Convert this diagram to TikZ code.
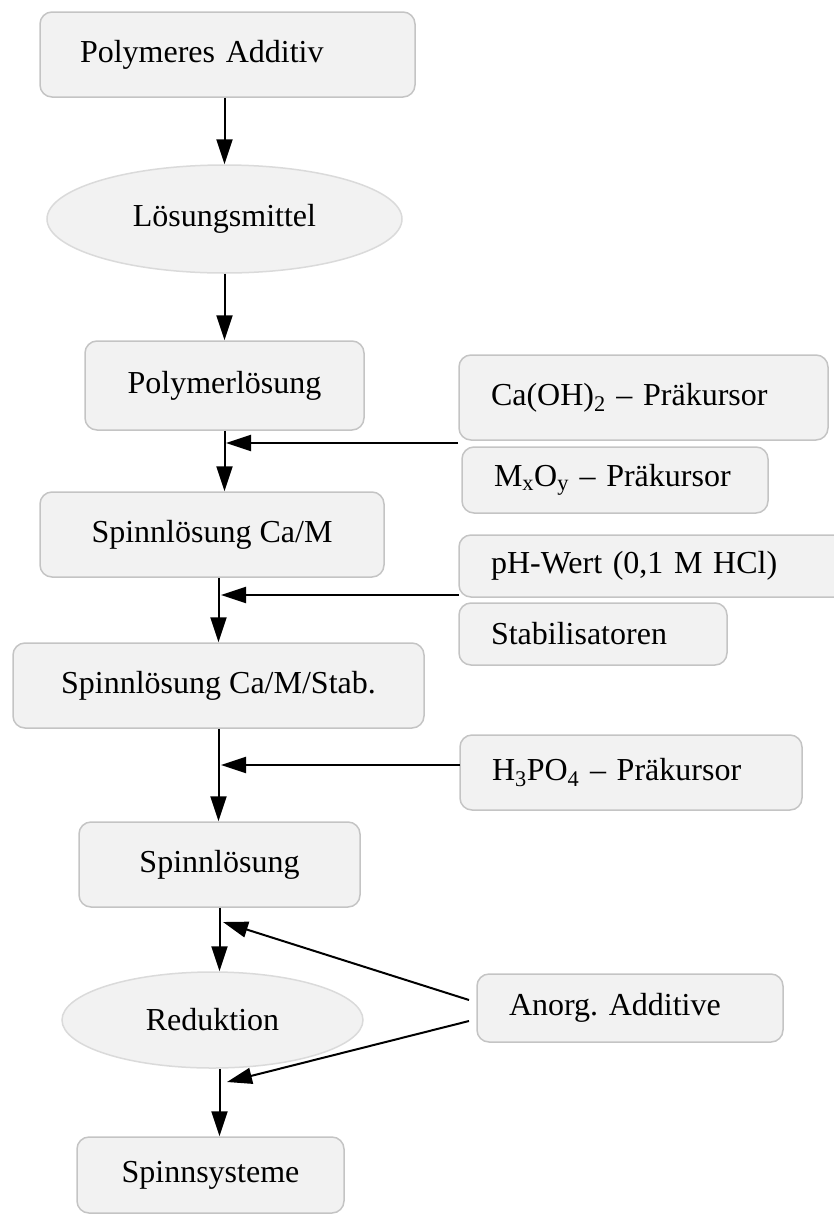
\documentclass[tikz,border=0pt]{standalone}
\usepackage{fontspec}
\setmainfont{Liberation Serif}
\usetikzlibrary{shapes.geometric,arrows.meta}
\definecolor{boxfill}{HTML}{F2F2F2}
\definecolor{boxline}{HTML}{C4C4C4}
\definecolor{ellline}{HTML}{DADADA}
\frenchspacing
\begin{document}
\begin{tikzpicture}[x=1pt,y=-1pt,
  every node/.style={fill=boxfill,font=\fontsize{32}{38}\selectfont,inner sep=0pt},
  procbox/.style={draw=boxline,line width=1.5pt,rounded corners=12pt,shape=rectangle},
  stepell/.style={draw=ellline,line width=1.5pt,shape=ellipse},
  inbox/.style={procbox,align=left,inner xsep=32pt},
  arr/.style={-{Triangle[length=25pt,width=16pt]},line width=2pt}]

  \useasboundingbox (0,0) rectangle (833,1216);

  % Specification of nodes (main chain)
  \node[procbox,align=left,inner xsep=40pt,text width=295pt,minimum height=85pt] (pa) at (227.5,54.5) {Polymeres Additiv};
  \node[stepell,minimum width=355pt,minimum height=108pt] (lm) at (224.5,219) {Lösungsmittel};
  \node[procbox,minimum width=279pt,minimum height=89pt] (pl) at (224.5,385.5) {Polymerlösung};
  \node[procbox,minimum width=344pt,minimum height=85pt] (sca) at (212,534.5) {Spinnlösung Ca/M};
  \node[procbox,minimum width=411pt,minimum height=85pt] (sst) at (218.5,685.5) {Spinnlösung Ca/M/Stab.};
  \node[procbox,minimum width=281pt,minimum height=85pt] (sp) at (219.5,864.5) {Spinnlösung};
  \node[stepell,minimum width=301pt,minimum height=96pt] (red) at (212.5,1020) {Reduktion};
  \node[procbox,minimum width=267pt,minimum height=76pt] (ss) at (210.5,1175) {Spinnsysteme};

  % inputs on the right
  \node[inbox,text width=305pt,minimum height=85pt] (c1) at (643.5,397.5) {Ca(OH)\textsubscript{2} -- Präkursor};
  \node[inbox,text width=242pt,minimum height=66pt] (c2) at (615,480) {M\textsubscript{x}O\textsubscript{y} -- Präkursor};
  \node[inbox,text width=337pt,minimum height=62pt] (c3) at (659.5,566) {pH-Wert (0,1 M HCl)};
  \node[inbox,text width=204pt,minimum height=62pt] (c4) at (593,634) {Stabilisatoren};
  \node[inbox,text width=278pt,minimum height=75pt] (c5) at (631,772.5) {H\textsubscript{3}PO\textsubscript{4} -- Präkursor};
  \node[inbox,text width=242pt,minimum height=68pt] (an) at (630,1008) {Anorg. Additive};

  \coordinate (j1) at (458,443);
  \coordinate (m1) at (226,443);
  \coordinate (j2) at (459,595);
  \coordinate (m2) at (221,595);
  \coordinate (j3) at (460,765);
  \coordinate (m3) at (221,765);
  \coordinate (j4) at (469,1000);
  \coordinate (m4) at (223,922);
  \coordinate (j5) at (469,1021);
  \coordinate (m5) at (227,1082);

  \begin{scope}[arr]
    \draw (lm.north |- pa.south) -- (lm.north);
    \draw (pl.north |- lm.south) -- (pl.north);
    \draw (pl.south) -- (pl.south |- sca.north);
    \draw (sst.north |- sca.south) -- (sst.north);
    \draw (sst.south) -- (sst.south |- sp.north);
    \draw (sp.south) -- (sp.south |- red.north);
    \draw (sp.south |- red.south) -- (sp.south |- ss.north);
    \draw (j1) -- (m1);
    \draw (j2) -- (m2);
    \draw (j3) -- (m3);
    \draw (j4) -- (m4);
    \draw (j5) -- (m5);
  \end{scope}

\end{tikzpicture}
\end{document}
